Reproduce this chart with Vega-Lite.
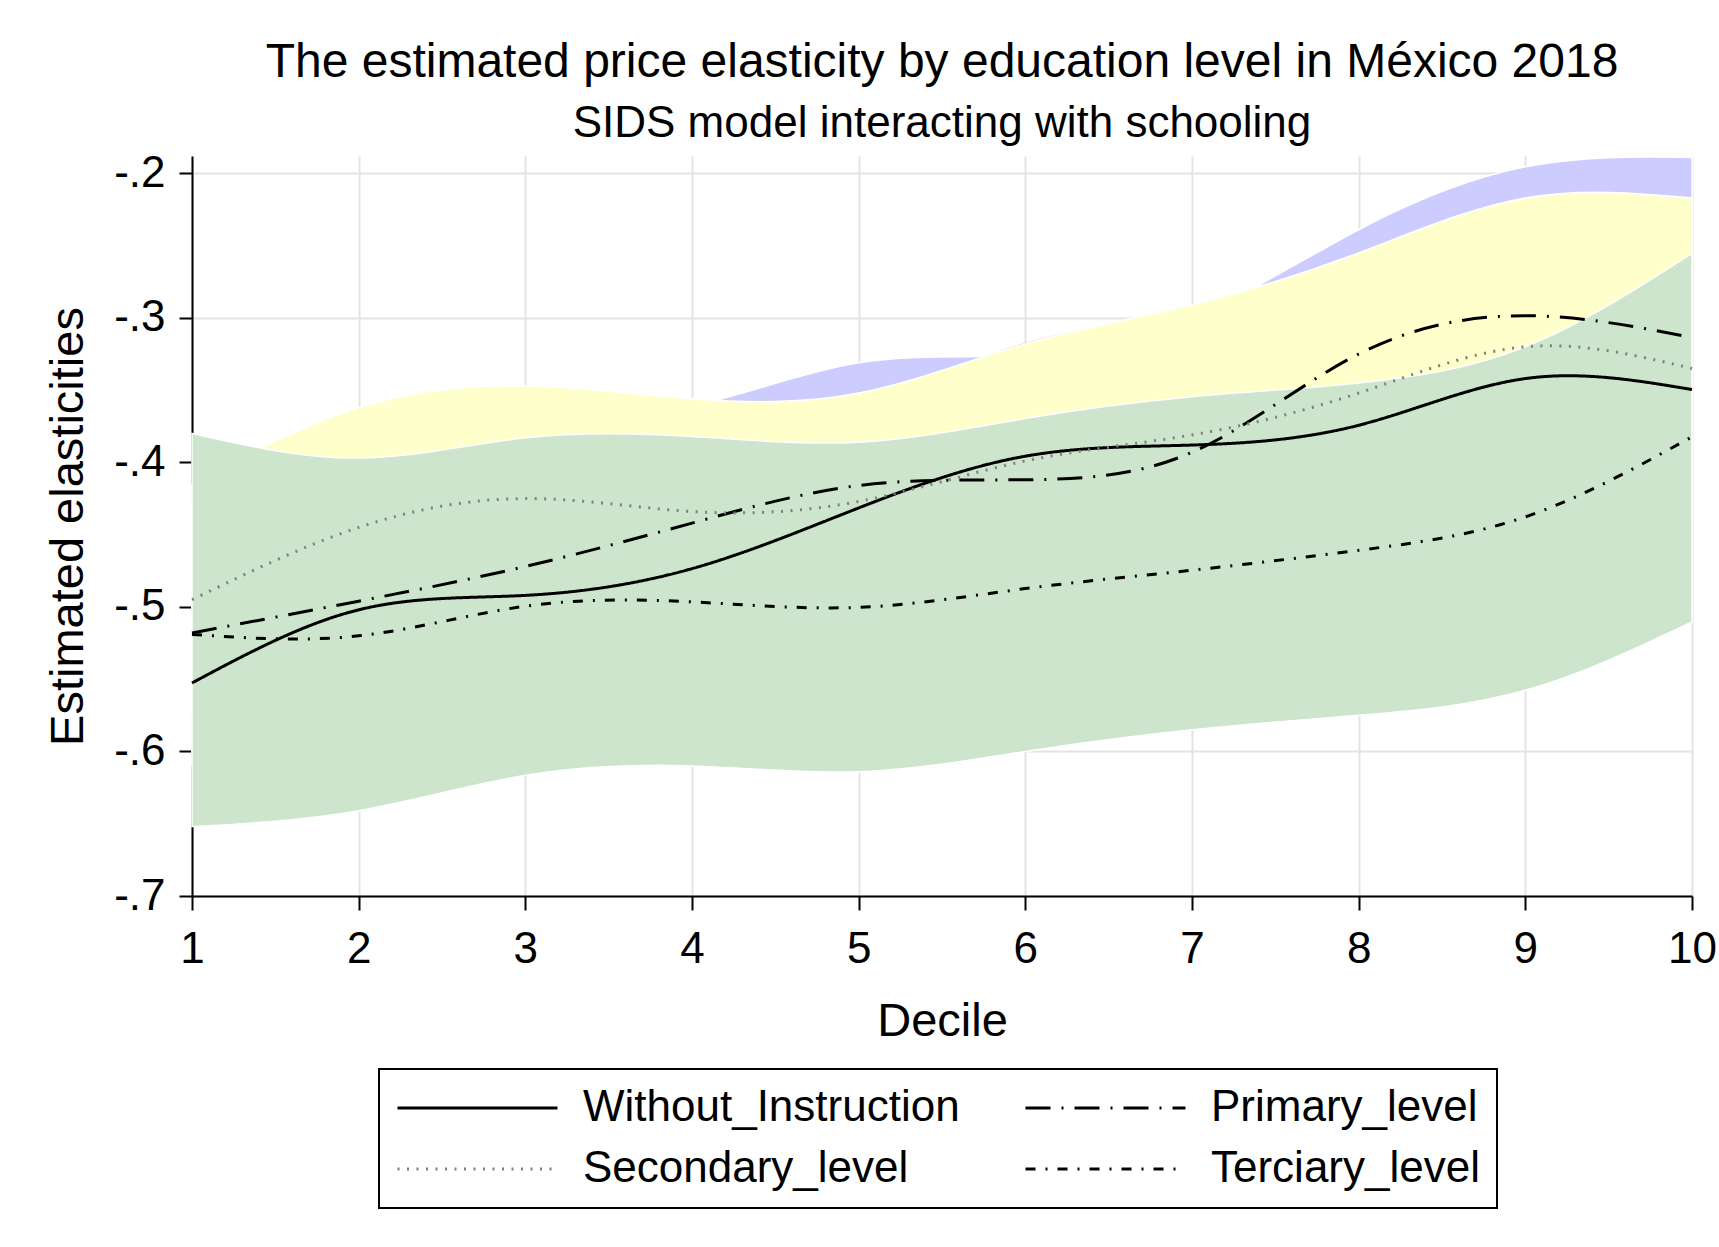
{
  "$schema": "https://vega.github.io/schema/vega-lite/v6.json",
  "width": 1500,
  "height": 740,
  "autosize": {"type": "none"},
  "padding": {"left": 192, "top": 156, "right": 27, "bottom": 351},
  "background": "white",
  "title": {
    "text": "The estimated price elasticity by education level in México 2018",
    "subtitle": "SIDS model interacting with schooling",
    "anchor": "middle",
    "frame": "group",
    "font": "Liberation Sans",
    "fontSize": 48,
    "fontWeight": "normal",
    "color": "black",
    "subtitleFont": "Liberation Sans",
    "subtitleFontSize": 44,
    "subtitleColor": "black",
    "subtitlePadding": 15,
    "offset": 5
  },
  "datasets": {
    "bands": [
      {"decile": 1, "band": "Without_Instruction", "lo": -0.635, "hi": -0.47},
      {"decile": 2, "band": "Without_Instruction", "lo": -0.58, "hi": -0.42},
      {"decile": 3, "band": "Without_Instruction", "lo": -0.57, "hi": -0.41},
      {"decile": 4, "band": "Without_Instruction", "lo": -0.555, "hi": -0.39},
      {"decile": 5, "band": "Without_Instruction", "lo": -0.5, "hi": -0.36},
      {"decile": 6, "band": "Without_Instruction", "lo": -0.475, "hi": -0.317},
      {"decile": 7, "band": "Without_Instruction", "lo": -0.475, "hi": -0.3},
      {"decile": 8, "band": "Without_Instruction", "lo": -0.46, "hi": -0.29},
      {"decile": 9, "band": "Without_Instruction", "lo": -0.42, "hi": -0.26},
      {"decile": 10, "band": "Without_Instruction", "lo": -0.43, "hi": -0.27},
      {"decile": 1, "band": "Primary_level", "lo": -0.61, "hi": -0.43},
      {"decile": 2, "band": "Primary_level", "lo": -0.59, "hi": -0.4},
      {"decile": 3, "band": "Primary_level", "lo": -0.57, "hi": -0.375},
      {"decile": 4, "band": "Primary_level", "lo": -0.53, "hi": -0.361},
      {"decile": 5, "band": "Primary_level", "lo": -0.5, "hi": -0.331},
      {"decile": 6, "band": "Primary_level", "lo": -0.5, "hi": -0.326},
      {"decile": 7, "band": "Primary_level", "lo": -0.49, "hi": -0.3},
      {"decile": 8, "band": "Primary_level", "lo": -0.41, "hi": -0.239},
      {"decile": 9, "band": "Primary_level", "lo": -0.4, "hi": -0.1955},
      {"decile": 10, "band": "Primary_level", "lo": -0.44, "hi": -0.189},
      {"decile": 1, "band": "Secondary_level", "lo": -0.575, "hi": -0.415},
      {"decile": 2, "band": "Secondary_level", "lo": -0.53, "hi": -0.362},
      {"decile": 3, "band": "Secondary_level", "lo": -0.5, "hi": -0.347},
      {"decile": 4, "band": "Secondary_level", "lo": -0.51, "hi": -0.356},
      {"decile": 5, "band": "Secondary_level", "lo": -0.5, "hi": -0.352},
      {"decile": 6, "band": "Secondary_level", "lo": -0.48, "hi": -0.318},
      {"decile": 7, "band": "Secondary_level", "lo": -0.47, "hi": -0.291},
      {"decile": 8, "band": "Secondary_level", "lo": -0.45, "hi": -0.255},
      {"decile": 9, "band": "Secondary_level", "lo": -0.42, "hi": -0.217},
      {"decile": 10, "band": "Secondary_level", "lo": -0.45, "hi": -0.217},
      {"decile": 1, "band": "Terciary_level", "lo": -0.652, "hi": -0.38},
      {"decile": 2, "band": "Terciary_level", "lo": -0.641, "hi": -0.397},
      {"decile": 3, "band": "Terciary_level", "lo": -0.6165, "hi": -0.383},
      {"decile": 4, "band": "Terciary_level", "lo": -0.61, "hi": -0.382},
      {"decile": 5, "band": "Terciary_level", "lo": -0.614, "hi": -0.386},
      {"decile": 6, "band": "Terciary_level", "lo": -0.6, "hi": -0.3696},
      {"decile": 7, "band": "Terciary_level", "lo": -0.585, "hi": -0.3546},
      {"decile": 8, "band": "Terciary_level", "lo": -0.575, "hi": -0.345},
      {"decile": 9, "band": "Terciary_level", "lo": -0.5577, "hi": -0.32},
      {"decile": 10, "band": "Terciary_level", "lo": -0.5104, "hi": -0.2554}
    ],
    "lines": [
      {"decile": 1, "level": "Without_Instruction", "value": -0.5526},
      {"decile": 2, "level": "Without_Instruction", "value": -0.502},
      {"decile": 3, "level": "Without_Instruction", "value": -0.492},
      {"decile": 4, "level": "Without_Instruction", "value": -0.4735},
      {"decile": 5, "level": "Without_Instruction", "value": -0.4315},
      {"decile": 6, "level": "Without_Instruction", "value": -0.3957},
      {"decile": 7, "level": "Without_Instruction", "value": -0.388},
      {"decile": 8, "level": "Without_Instruction", "value": -0.3743},
      {"decile": 9, "level": "Without_Instruction", "value": -0.342},
      {"decile": 10, "level": "Without_Instruction", "value": -0.3496},
      {"decile": 1, "level": "Primary_level", "value": -0.518},
      {"decile": 2, "level": "Primary_level", "value": -0.496},
      {"decile": 3, "level": "Primary_level", "value": -0.472},
      {"decile": 4, "level": "Primary_level", "value": -0.442},
      {"decile": 5, "level": "Primary_level", "value": -0.416},
      {"decile": 6, "level": "Primary_level", "value": -0.412},
      {"decile": 7, "level": "Primary_level", "value": -0.393},
      {"decile": 8, "level": "Primary_level", "value": -0.325},
      {"decile": 9, "level": "Primary_level", "value": -0.2985},
      {"decile": 10, "level": "Primary_level", "value": -0.3136},
      {"decile": 1, "level": "Secondary_level", "value": -0.495},
      {"decile": 2, "level": "Secondary_level", "value": -0.445},
      {"decile": 3, "level": "Secondary_level", "value": -0.425},
      {"decile": 4, "level": "Secondary_level", "value": -0.434},
      {"decile": 5, "level": "Secondary_level", "value": -0.427},
      {"decile": 6, "level": "Secondary_level", "value": -0.399},
      {"decile": 7, "level": "Secondary_level", "value": -0.381},
      {"decile": 8, "level": "Secondary_level", "value": -0.352},
      {"decile": 9, "level": "Secondary_level", "value": -0.32},
      {"decile": 10, "level": "Secondary_level", "value": -0.335},
      {"decile": 1, "level": "Terciary_level", "value": -0.519},
      {"decile": 2, "level": "Terciary_level", "value": -0.52},
      {"decile": 3, "level": "Terciary_level", "value": -0.4995},
      {"decile": 4, "level": "Terciary_level", "value": -0.4965},
      {"decile": 5, "level": "Terciary_level", "value": -0.5003},
      {"decile": 6, "level": "Terciary_level", "value": -0.4873},
      {"decile": 7, "level": "Terciary_level", "value": -0.4746},
      {"decile": 8, "level": "Terciary_level", "value": -0.4608},
      {"decile": 9, "level": "Terciary_level", "value": -0.4377},
      {"decile": 10, "level": "Terciary_level", "value": -0.3823}
    ]
  },
  "encoding": {
    "x": {
      "field": "decile",
      "type": "quantitative",
      "title": "Decile",
      "scale": {"domain": [1, 10], "nice": false, "zero": false},
      "axis": {
        "values": [1, 2, 3, 4, 5, 6, 7, 8, 9, 10],
        "labelFlush": false,
        "labelOverlap": false,
        "tickSize": 14,
        "labelPadding": 17,
        "titleX": 750,
        "titleY": 139,
        "titleAlign": "center",
        "titleBaseline": "alphabetic"
      }
    }
  },
  "layer": [
    {
      "data": {"name": "bands"},
      "transform": [{"filter": "datum.band === 'Without_Instruction'"}],
      "mark": {"type": "area", "interpolate": "natural", "fill": "#FFCCCC"},
      "encoding": {
        "y": {
          "field": "lo",
          "type": "quantitative",
          "title": "Estimated elasticities",
          "scale": {"domain": [-0.7, -0.188], "nice": false, "zero": false},
          "axis": {
            "values": [-0.7, -0.6, -0.5, -0.4, -0.3, -0.2],
            "labelExpr": "'-' + replace(format(abs(datum.value), '.1f'), '0.', '.')",
            "tickSize": 13,
            "labelPadding": 14,
            "labelBaseline": "middle",
            "titleAngle": -90,
            "titleX": -110,
            "titleY": 370,
            "titleAlign": "center",
            "titleBaseline": "alphabetic"
          }
        },
        "y2": {"field": "hi"}
      }
    },
    {
      "data": {"name": "bands"},
      "transform": [{"filter": "datum.band === 'Primary_level'"}],
      "mark": {"type": "area", "interpolate": "natural", "fill": "#CCCCFF", "stroke": "white", "strokeWidth": 1.5},
      "encoding": {
        "y": {"field": "lo", "type": "quantitative", "title": "Estimated elasticities", "scale": {"domain": [-0.7, -0.188], "nice": false, "zero": false}},
        "y2": {"field": "hi"}
      }
    },
    {
      "data": {"name": "bands"},
      "transform": [{"filter": "datum.band === 'Secondary_level'"}],
      "mark": {"type": "area", "interpolate": "natural", "fill": "#FFFFCC", "stroke": "white", "strokeWidth": 1.5},
      "encoding": {
        "y": {"field": "lo", "type": "quantitative", "title": "Estimated elasticities", "scale": {"domain": [-0.7, -0.188], "nice": false, "zero": false}},
        "y2": {"field": "hi"}
      }
    },
    {
      "data": {"name": "bands"},
      "transform": [{"filter": "datum.band === 'Terciary_level'"}],
      "mark": {"type": "area", "interpolate": "natural", "fill": "#CCE5CC", "stroke": "white", "strokeWidth": 1.5},
      "encoding": {
        "y": {"field": "lo", "type": "quantitative", "title": "Estimated elasticities", "scale": {"domain": [-0.7, -0.188], "nice": false, "zero": false}},
        "y2": {"field": "hi"}
      }
    },
    {
      "data": {"name": "lines"},
      "mark": {"type": "line", "interpolate": "natural", "strokeWidth": 3},
      "encoding": {
        "y": {"field": "value", "type": "quantitative", "title": "Estimated elasticities", "scale": {"domain": [-0.7, -0.188], "nice": false, "zero": false}},
        "color": {
          "field": "level",
          "type": "nominal",
          "title": null,
          "scale": {
            "domain": ["Without_Instruction", "Primary_level", "Secondary_level", "Terciary_level"],
            "range": ["#000000", "#000000", "#7f7f7f", "#000000"]
          }
        },
        "strokeDash": {
          "field": "level",
          "type": "nominal",
          "title": null,
          "scale": {
            "domain": ["Without_Instruction", "Primary_level", "Secondary_level", "Terciary_level"],
            "range": [[1, 0], [25, 11, 2, 11], [2, 7.5], [10, 10, 2, 10]]
          }
        }
      }
    }
  ],
  "config": {
    "view": {"stroke": null},
    "font": "Liberation Sans",
    "axis": {
      "labelFont": "Liberation Sans",
      "labelFontSize": 44,
      "labelColor": "black",
      "titleFont": "Liberation Sans",
      "titleFontSize": 47,
      "titleFontWeight": "normal",
      "titleColor": "black",
      "domainColor": "black",
      "domainWidth": 2,
      "tickColor": "black",
      "tickWidth": 2,
      "grid": true,
      "gridColor": "#E4E4E4",
      "gridWidth": 2,
      "zindex": 1
    },
    "legend": {
      "orient": "none",
      "legendX": 187,
      "legendY": 913,
      "direction": "horizontal",
      "columns": 2,
      "symbolType": "stroke",
      "symbolSize": 25600,
      "symbolStrokeWidth": 3,
      "clipHeight": 44,
      "labelFont": "Liberation Sans",
      "labelFontSize": 44,
      "labelColor": "black",
      "labelOffset": 24,
      "labelLimit": 0,
      "columnPadding": 64,
      "rowPadding": 17,
      "padding": 17,
      "strokeColor": "black",
      "strokeWidth": 2,
      "fillColor": "white",
      "cornerRadius": 0
    }
  }
}
